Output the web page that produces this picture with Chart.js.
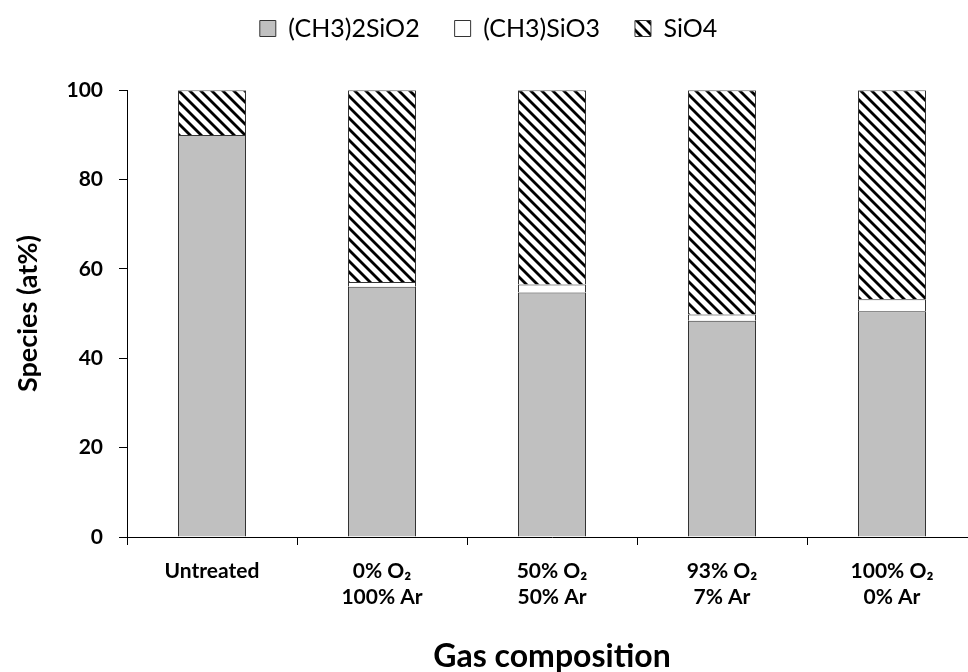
<!DOCTYPE html>
<html>
<head>
<meta charset="utf-8">
<script src="https://cdn.jsdelivr.net/npm/chart.js@4.4.1/dist/chart.umd.min.js"></script>
<style>
  html, body { margin: 0; padding: 0; background: #fff; overflow: hidden; }
  #wrap { width: 985px; height: 672px; }
</style>
</head>
<body>
<div id="wrap"><canvas id="speciesChart" width="985" height="672"></canvas></div>
<script>
// categories (gas composition), two-line labels
var categories = [
  ['Untreated'],
  ['0% O\u2082', '100% Ar'],
  ['50% O\u2082', '50% Ar'],
  ['93% O\u2082', '7% Ar'],
  ['100% O\u2082', '0% Ar']
];

// species, at%
var dimethyl = [90.0, 56.0, 54.7, 48.4, 50.5];   // (CH3)2SiO2
var methyl   = [0.0, 1.1, 1.8, 1.4, 2.7];        // (CH3)SiO3
var sio4     = [10.0, 42.9, 43.5, 50.2, 46.8];   // SiO4

var yTicks = [0, 20, 40, 60, 80, 100];

// diagonal hatch for SiO4
function makeHatch() {
  var c = document.createElement('canvas');
  c.width = 11;
  c.height = 11;
  var g = c.getContext('2d');
  g.fillStyle = '#fff';
  g.fillRect(0, 0, 11, 11);
  g.strokeStyle = '#000';
  g.lineWidth = 2.8;
  [-11, 0, 11].forEach(function(k){
    g.beginPath();
    g.moveTo(k - 1, -1);
    g.lineTo(k + 12, 12);
    g.stroke();
  });
  return g.createPattern(c, 'repeat');
}

var font = "Lato, 'Open Sans', sans-serif";
var ctx = document.getElementById('speciesChart').getContext('2d');
var hatch = makeHatch();

var chart = new Chart(ctx, {
  type: 'bar',
  data: {
    labels: categories,
    datasets: [
      {
        label: '(CH3)2SiO2',
        data: dimethyl,
        backgroundColor: '#c0c0c0',
        borderColor: '#333',
        borderWidth: 1
      },
      {
        label: '(CH3)SiO3',
        data: methyl,
        backgroundColor: '#fff',
        borderColor: '#333',
        borderWidth: 1
      },
      {
        label: 'SiO4',
        data: sio4,
        backgroundColor: hatch,
        borderColor: '#333',
        borderWidth: 1
      }
    ]
  },
  options: {
    responsive: false,
    animation: false,
    layout: { padding: { top: -19, right: 8, bottom: 0, left: 0 } },
    datasets: { bar: { categoryPercentage: 1, barPercentage: 0.4 } },
    plugins: {
      tooltip: { enabled: false },
      legend: {
        position: 'top',
        labels: {
          color: '#000',
          font: { family: font, size: 25 },
          boxWidth: 16,
          boxHeight: 16,
          padding: 35
        }
      },
      // empty spacer between legend and plot
      subtitle: {
        display: true,
        text: '',
        position: 'top',
        weight: 500,
        font: { size: 1 },
        padding: { top: 38, bottom: 0 }
      }
    },
    scales: {
      x: {
        stacked: true,
        offset: true,
        afterFit: function(scale){ scale.height = 135; },
        grid: { display: true, drawOnChartArea: false, offset: true, color: '#000', tickLength: 8 },
        border: { display: true, color: '#000', width: 1 },
        ticks: { color: '#000', font: { family: font, size: 21, weight: 'bold' }, padding: 14, maxRotation: 0, autoSkip: false },
        title: { display: true, text: 'Gas composition', color: '#000', font: { family: font, size: 32, weight: 'bold' }, padding: { top: 0, bottom: -4 } }
      },
      y: {
        stacked: true,
        min: 0,
        max: 100,
        afterFit: function(scale){ scale.width = 127; },
        afterBuildTicks: function(scale){
          scale.ticks = yTicks.map(function(v){ return { value: v }; });
        },
        grid: { display: true, drawOnChartArea: false, color: '#000', tickLength: 8 },
        border: { display: true, color: '#000', width: 1 },
        ticks: { color: '#000', font: { family: font, size: 21, weight: 'bold' }, padding: 16 },
        title: { display: true, text: 'Species (at%)', color: '#000', font: { family: font, size: 27, weight: 'bold' }, padding: { top: 12, bottom: 8 } }
      }
    }
  }
});
</script>
</body>
</html>
